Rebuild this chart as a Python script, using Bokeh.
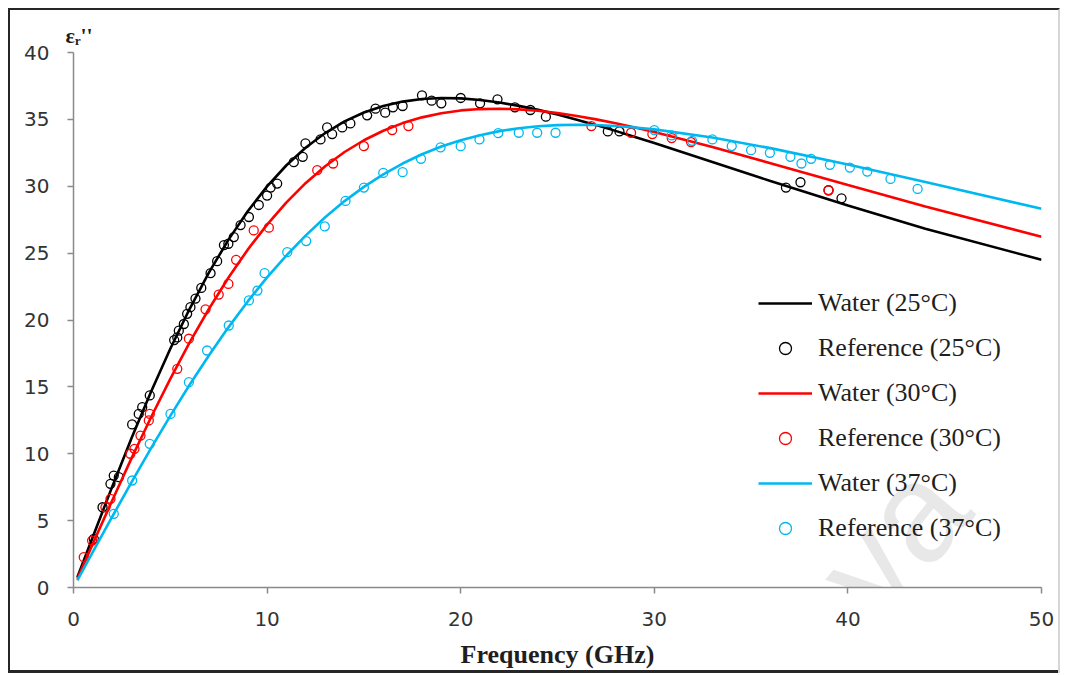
from bokeh.plotting import figure
from bokeh.models import Range1d, Label, Legend, LegendItem, FixedTicker
from bokeh.embed import file_html
from bokeh.resources import INLINE

# Dielectric loss factor of water vs frequency
freq_model = [0.2, 1, 2, 3, 4, 5, 6, 7, 8, 9, 10, 11, 12, 13, 14, 15, 16, 17, 18, 19,
              20, 21, 22, 23, 24, 25, 26, 27, 28, 29, 30, 33, 36, 40, 44, 50]
water_25 = [0.76, 3.80, 7.54, 11.17, 14.62, 17.85, 20.84, 23.56, 25.99, 28.13, 29.99,
            31.57, 32.90, 33.98, 34.85, 35.51, 36.00, 36.33, 36.52, 36.60, 36.57, 36.45,
            36.26, 36.01, 35.71, 35.36, 34.98, 34.57, 34.14, 33.69, 33.24, 31.82, 30.39,
            28.56, 26.83, 24.50]
water_30 = [0.66, 3.28, 6.51, 9.67, 12.71, 15.60, 18.32, 20.84, 23.16, 25.26, 27.13,
            28.80, 30.25, 31.50, 32.56, 33.44, 34.15, 34.72, 35.15, 35.46, 35.67, 35.77,
            35.80, 35.75, 35.64, 35.47, 35.25, 35.00, 34.71, 34.39, 34.05, 32.93, 31.72,
            30.09, 28.48, 26.23]
water_37 = [0.53, 2.66, 5.29, 7.88, 10.40, 12.83, 15.16, 17.37, 19.45, 21.39, 23.19,
            24.83, 26.33, 27.68, 28.89, 29.95, 30.89, 31.70, 32.39, 32.97, 33.44, 33.82,
            34.12, 34.34, 34.49, 34.57, 34.60, 34.58, 34.51, 34.39, 34.25, 33.64, 32.85,
            31.62, 30.31, 28.32]

ref25_f = [1.05, 1.5, 1.91, 2.08, 2.34, 3.03, 3.37, 3.55, 3.94, 5.2, 5.36, 5.44, 5.7,
           5.87, 6.04, 6.3, 6.6, 7.08, 7.42, 7.77, 8.0, 8.28, 8.63, 9.06, 9.57, 10.0,
           10.18, 10.52, 11.38, 11.84, 11.98, 12.76, 13.1, 13.36, 13.88, 14.3, 15.17,
           15.6, 16.1, 16.5, 17.0, 18.0, 18.5, 19.0, 20.0, 21.0, 21.9, 22.8, 23.6, 24.4,
           27.6, 28.2, 36.8, 37.55, 39.0, 39.67]
ref25 = [3.64, 6.0, 7.75, 8.37, 8.25, 12.19, 12.98, 13.48, 14.36, 18.5, 18.7, 19.2, 19.7,
         20.46, 20.96, 21.6, 22.4, 23.5, 24.4, 25.6, 25.7, 26.2, 27.1, 27.7, 28.6, 29.3,
         29.9, 30.2, 31.8, 32.2, 33.2, 33.5, 34.4, 33.9, 34.4, 34.7, 35.3,
         35.8, 35.5, 35.9, 36.0, 36.8, 36.4, 36.2, 36.6, 36.2, 36.5, 35.9, 35.7, 35.2,
         34.1, 34.1, 29.9, 30.3, 29.7, 29.1]

ref30_f = [0.53, 0.96, 1.65, 1.91, 2.94, 3.15, 3.46, 3.89, 3.94, 5.36, 5.96, 6.82, 7.5,
           8.0, 8.4, 9.31, 10.09, 12.59, 13.41, 15.0, 16.46, 17.3, 26.75, 28.8, 29.9,
           30.9, 31.9, 39.0]
ref30 = [2.27, 3.51, 6.0, 6.63, 10.0, 10.37, 11.36, 12.49, 12.98, 16.35, 18.6, 20.8, 21.9,
         22.7, 24.5, 26.7, 26.9, 31.2, 31.7, 33.0, 34.2, 34.5, 34.5, 34.0, 33.9,
         33.6, 33.3, 29.7]

ref37_f = [2.08, 3.03, 3.94, 5.01, 5.96, 6.9, 8.02, 9.06, 9.5, 9.87, 11.04, 12.02, 12.98,
           14.05, 15.0, 16.0, 17.0, 17.95, 18.96, 20.0, 20.97, 21.94, 23.0, 23.95, 24.9,
           30.0, 30.9, 31.95, 33.0, 34.0, 35.0, 35.97, 37.03, 37.6, 38.1, 39.07, 40.1,
           41.0, 42.2, 43.6]
ref37 = [5.51, 8.0, 10.74, 12.98, 15.35, 17.72, 19.59, 21.46, 22.2, 23.5, 25.07, 25.9, 27.0,
         28.9, 29.9, 31.0, 31.05, 32.05, 32.9, 33.0, 33.5, 33.97, 34.0, 34.0, 34.0,
         34.2, 33.8, 33.4, 33.5, 33.0, 32.7, 32.5, 32.2, 31.7, 32.05, 31.6, 31.4,
         31.1, 30.55, 29.8]

x_ticks = [0, 10, 20, 30, 40, 50]
y_ticks = [0, 5, 10, 15, 20, 25, 30, 35, 40]

BLACK = "#000000"
RED = "#ff0000"
CYAN = "#00b8f0"
AXIS_GREY = "#8a8a8a"
TEXT = "#1e1e1e"

p = figure(width=1052, height=665, x_range=Range1d(0, 50), y_range=Range1d(0, 40),
           output_backend="svg", toolbar_location=None,
           min_border_left=63, min_border_right=21, min_border_top=42,
           min_border_bottom=88)
# outer frame: dark top/left, pale right, bottom rule drawn as an inset band
p.styles = {"border-top": "2px solid #262626", "border-left": "2px solid #262626",
            "border-right": "2px solid #d6d6d6",
            "box-shadow": "inset 0 -3px 0 0 #262626",
            "margin-left": "8px", "margin-top": "8px"}
p.grid.visible = False
p.outline_line_color = None
p.background_fill_color = "white"
p.border_fill_alpha = 0

# y quantity shown as a title over the left axis
p.title.text = "εᵣ''"
p.title.align = "left"
p.title.offset = -8
p.title.standoff = 9
p.title.text_font = "Liberation Serif"
p.title.text_font_style = "bold"
p.title.text_font_size = "22px"
p.title.text_color = TEXT

for ax, ticks in ((p.xaxis[0], x_ticks), (p.yaxis[0], y_ticks)):
    ax.ticker = FixedTicker(ticks=ticks)
    ax.axis_line_color = AXIS_GREY
    ax.axis_line_width = 1.5
    ax.major_tick_line_color = AXIS_GREY
    ax.major_tick_line_width = 1.5
    ax.major_tick_in = 0
    ax.major_tick_out = 6
    ax.minor_tick_line_color = None
    ax.major_label_text_font = "DejaVu Sans"
    ax.major_label_text_font_size = "20px"
    ax.major_label_text_color = "#333333"
p.yaxis[0].major_label_standoff = 18
p.xaxis[0].major_label_standoff = 18

xax = p.xaxis[0]
xax.axis_label = "Frequency (GHz)"
xax.axis_label_standoff = 11
xax.axis_label_text_font = "Liberation Serif"
xax.axis_label_text_font_style = "bold"
xax.axis_label_text_font_size = "26px"
xax.axis_label_text_color = TEXT

# faint watermark behind the data
p.add_layout(Label(x=36.2, y=-6.9, text="laya", angle=50, angle_units="deg",
                   text_font="Liberation Sans", text_font_size="140px",
                   text_color="#e8e8e8", text_baseline="alphabetic", level="underlay"))

lw = 2.6
ms = 9
l25 = p.line(freq_model, water_25, line_color=BLACK, line_width=lw)
c25 = p.scatter(ref25_f, ref25, marker="circle", size=ms, fill_color=None,
                line_color=BLACK, line_width=1.3)
l30 = p.line(freq_model, water_30, line_color=RED, line_width=lw)
c30 = p.scatter(ref30_f, ref30, marker="circle", size=ms, fill_color=None,
                line_color=RED, line_width=1.3)
l37 = p.line(freq_model, water_37, line_color=CYAN, line_width=lw)
c37 = p.scatter(ref37_f, ref37, marker="circle", size=ms, fill_color=None,
                line_color=CYAN, line_width=1.3)

legend = Legend(items=[
    LegendItem(label="Water (25°C)", renderers=[l25]),
    LegendItem(label="Reference (25°C)", renderers=[c25]),
    LegendItem(label="Water (30°C)", renderers=[l30]),
    LegendItem(label="Reference (30°C)", renderers=[c30]),
    LegendItem(label="Water (37°C)", renderers=[l37]),
    LegendItem(label="Reference (37°C)", renderers=[c37]),
], location=(685, 44))
legend.border_line_color = None
legend.background_fill_alpha = 0
legend.padding = 0
legend.margin = 0
legend.spacing = 15
legend.label_height = 30
legend.glyph_height = 30
legend.glyph_width = 54
legend.label_standoff = 6
legend.label_text_font = "Liberation Serif"
legend.label_text_font_size = "26px"
legend.label_text_color = TEXT
p.add_layout(legend)

open("out.html", "w").write(file_html(p, INLINE))
